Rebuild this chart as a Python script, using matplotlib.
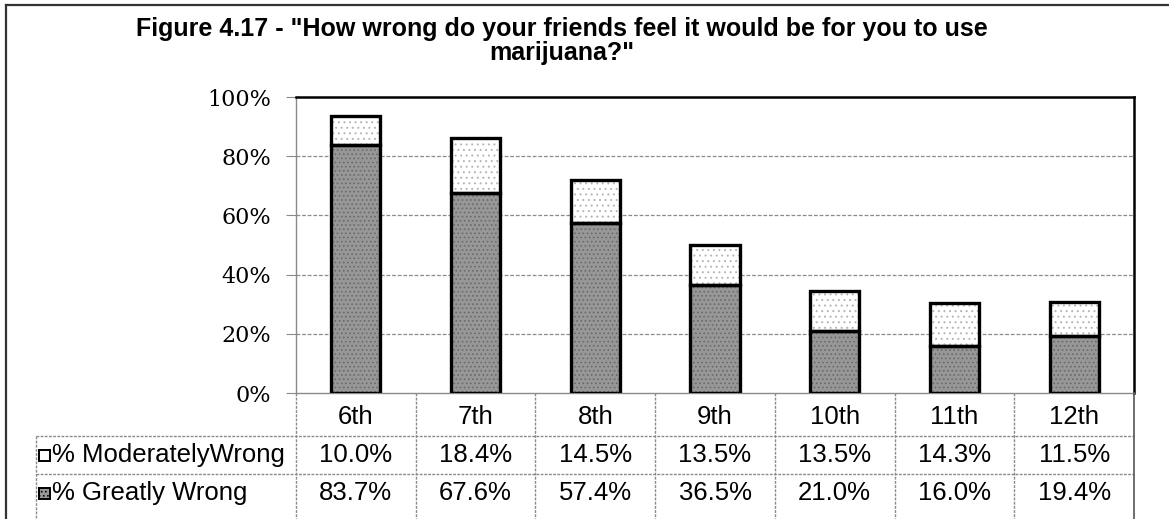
import matplotlib
matplotlib.use("Agg")
import matplotlib.pyplot as plt
from matplotlib.patches import Rectangle
from matplotlib.lines import Line2D
import matplotlib.transforms as mtransforms

# ---- data ----
categories = ["6th", "7th", "8th", "9th", "10th", "11th", "12th"]
greatly_wrong = [83.7, 67.6, 57.4, 36.5, 21.0, 16.0, 19.4]
moderately_wrong = [10.0, 18.4, 14.5, 13.5, 13.5, 14.3, 11.5]
series_names = ["% ModeratelyWrong", "% Greatly Wrong"]
yticks = [0, 20, 40, 60, 80, 100]
ytick_labels = ["0%", "20%", "40%", "60%", "80%", "100%"]
title = 'Figure 4.17 - "How wrong do your friends feel it would be for you to use\nmarijuana?"'

W, H = 1169, 519
fig = plt.figure(figsize=(W / 100, H / 100), dpi=100)
fig.patch.set_facecolor("white")

def fx(px):
    return px / W

def fy(py):
    return 1 - py / H

# plot area
left, right, top, bottom = 296, 1134, 97, 393
ax = fig.add_axes([fx(left), fy(bottom), fx(right - left), (bottom - top) / H])
ax.set_xlim(-0.5, len(categories) - 0.5)
ax.set_ylim(0, 100)

x = list(range(len(categories)))
bw = 0.41
dark = "#979797"
plt.rcParams["hatch.linewidth"] = 0.7

# greatly wrong (dark stipple)
ax.bar(x, greatly_wrong, bw, color=dark, hatch="....", edgecolor="#6a6a6a",
       linewidth=0, zorder=2)
ax.bar(x, greatly_wrong, bw, fill=False, edgecolor="black", linewidth=2.4, zorder=3)
# moderately wrong (light stipple)
ax.bar(x, moderately_wrong, bw, bottom=greatly_wrong, color="white", hatch="...",
       edgecolor="#b5b5b5", linewidth=0, zorder=2)
ax.bar(x, moderately_wrong, bw, bottom=greatly_wrong, fill=False,
       edgecolor="black", linewidth=2.4, zorder=3)

# grid
for v in yticks[1:-1]:
    ax.axhline(v, color="#8a8a8a", lw=0.9, ls=(0, (3, 1.5)), zorder=1)

ax.set_yticks(yticks)
ax.set_yticklabels(ytick_labels, family="DejaVu Serif", fontsize=16)
ax.tick_params(axis="y", length=7, width=0.8, color="#8a8a8a", pad=11)
ax.set_xticks([])

for s in ["top", "right"]:
    ax.spines[s].set_color("black")
    ax.spines[s].set_linewidth(1.8)
for s in ["left", "bottom"]:
    ax.spines[s].set_color("#8a8a8a")
    ax.spines[s].set_linewidth(1.0)
    ax.spines[s].set_linestyle((0, (2, 1)))

# ---- data table ----
legend_left = 36
table_bottom = 530
grid_kw = dict(color="#8a8a8a", lw=1.0, ls=(0, (2, 1)), transform=fig.transFigure)

fig.add_artist(Line2D([fx(legend_left), fx(right)], [fy(436), fy(436)], **grid_kw))
fig.add_artist(Line2D([fx(legend_left), fx(right)], [fy(474), fy(474)], **grid_kw))
fig.add_artist(Line2D([fx(legend_left), fx(legend_left)], [fy(436), fy(table_bottom)], **grid_kw))
fig.add_artist(Line2D([fx(left), fx(left)], [fy(393), fy(table_bottom)], **grid_kw))
bt = mtransforms.blended_transform_factory(ax.transData, fig.transFigure)
for i in range(1, len(categories)):
    fig.add_artist(Line2D([i - 0.5, i - 0.5], [fy(393), fy(table_bottom)],
                          color="#8a8a8a", lw=1.0, ls=(0, (2, 1)), transform=bt))
fig.add_artist(Line2D([fx(right), fx(right)], [fy(393), fy(table_bottom)],
                      color="#555555", lw=1.2, transform=fig.transFigure))

tfont = dict(family="Liberation Sans", fontsize=18.5)
for i, c in enumerate(categories):
    fig.text(i, fy(417), c, transform=bt, ha="center", va="center", **tfont)
    fig.text(i, fy(455), f"{moderately_wrong[i]:.1f}%", transform=bt,
             ha="center", va="center", **tfont)
    fig.text(i, fy(493), f"{greatly_wrong[i]:.1f}%", transform=bt,
             ha="center", va="center", **tfont)

# legend keys
sq = 11
r1 = Rectangle((fx(39), fy(455 + sq / 2)), fx(sq), sq / H, transform=fig.transFigure,
               facecolor="white", edgecolor="black", lw=1.4)
r2 = Rectangle((fx(39), fy(493 + sq / 2)), fx(sq), sq / H, transform=fig.transFigure,
               facecolor=dark, edgecolor="black", lw=1.4, hatch="....")
fig.add_artist(r1)
fig.add_artist(r2)
fig.text(fx(52), fy(455), series_names[0], ha="left", va="center", **tfont)
fig.text(fx(52), fy(493), series_names[1], ha="left", va="center", **tfont)

# title
fig.text(fx(562), fy(41), title, ha="center", va="center", family="Liberation Sans",
         fontweight="bold", fontsize=18, linespacing=1.05)

# outer frame (left and top visible)
fig.add_artist(Line2D([fx(6), fx(6)], [fy(5), fy(530)], color="#333333", lw=1.6,
                      transform=fig.transFigure))
fig.add_artist(Line2D([fx(6), fx(1180)], [fy(5), fy(5)], color="#333333", lw=1.6,
                      transform=fig.transFigure))

fig.savefig("out.png", dpi=100)
